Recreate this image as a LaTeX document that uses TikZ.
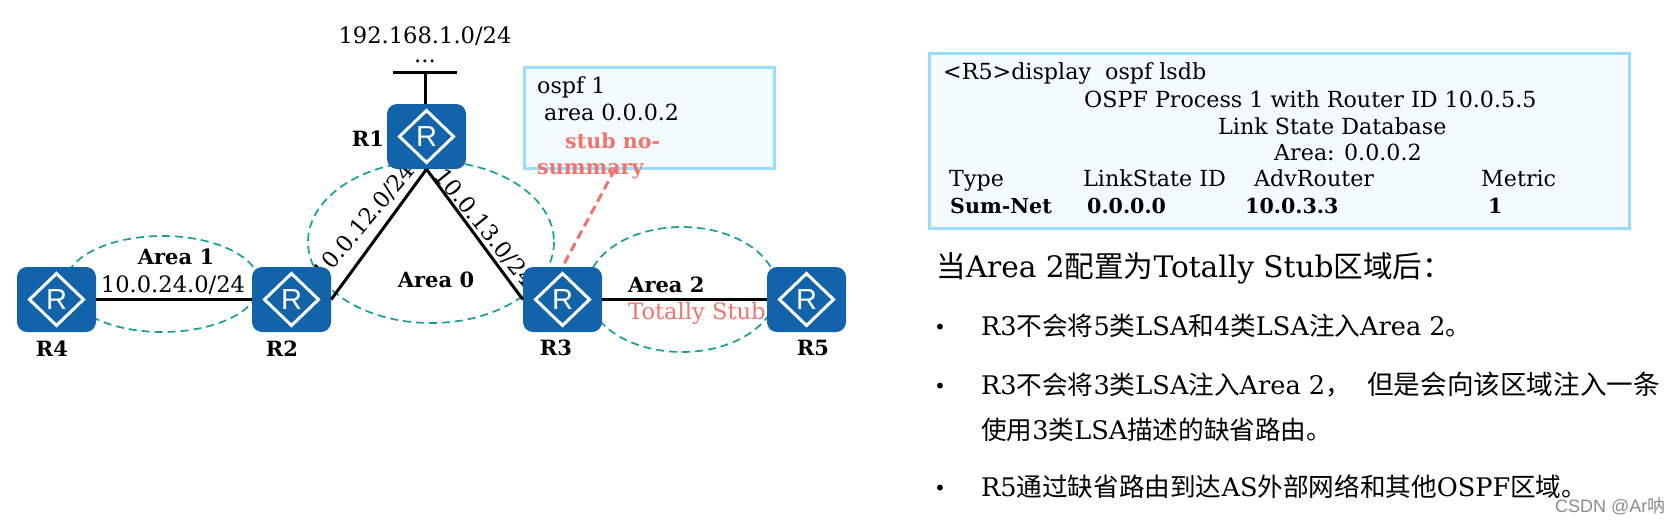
\documentclass[tikz,border=0pt]{standalone}
\usepackage{fontspec}
\setmainfont{DejaVu Serif}
\newfontfamily\cjk{Noto Sans CJK SC}
\newfontfamily\wmfont{Liberation Sans}
\definecolor{rblue}{HTML}{1363AA}
\definecolor{tealdash}{HTML}{149F98}
\definecolor{boxline}{HTML}{9ADCFA}
\definecolor{boxfill}{HTML}{F3FBFE}
\definecolor{redtxt}{HTML}{F0746C}
\newcommand{\fs}[1]{\fontsize{#1}{#1}\selectfont}
\tikzset{
  x=1pt,y=-1pt,
  router/.style={rectangle,rounded corners=10pt,fill=rblue,minimum width=79pt,minimum height=65pt,inner sep=0pt,text=white,
    font=\wmfont\fs{29},
    path picture={\draw[white,line width=3pt,sharp corners] ([xshift=-27pt]path picture bounding box.center)--([yshift=26pt]path picture bounding box.center)--([xshift=27pt]path picture bounding box.center)--([yshift=-26pt]path picture bounding box.center)--cycle;}},
  link/.style={line width=3pt,black},
  area/.style={tealdash,line width=1.7pt,dash pattern=on 8pt off 5pt},
  lbl/.style={inner sep=0pt,font=\fs{22.6}},
  tl/.style={inner sep=0pt,anchor=base west,font=\fs{22.2}},
  tb/.style={tl,font=\fs{20.6}\bfseries},
  rname/.style={inner sep=0pt,font=\fs{21}\bfseries},
  bul/.style={inner sep=0pt,anchor=base west,font=\fs{25.6}},
  panel/.style={draw=boxline,fill=boxfill,line width=3pt,inner sep=0pt,anchor=north west},
}
\begin{document}
\begin{tikzpicture}
\useasboundingbox (0,0) rectangle (1677,525);
% areas
\draw[area] (162.5,284) ellipse [x radius=97,y radius=48];
\draw[area] (431,242) ellipse [x radius=123,y radius=81];
\draw[area] (682,289.5) ellipse [x radius=95,y radius=62.5];
% rotated labels
\node[lbl,rotate=50] (l12) at (364,222) {10.0.12.0/24};
\node[lbl,rotate=-51] (l13) at (485,228) {10.0.13.0/24};
% routers
\coordinate (c0) at (425,72);
\coordinate (hl) at (393,72);
\coordinate (hr) at (457,72);
\coordinate (c1) at (615,169);
\node[panel,minimum width=250pt,minimum height=101pt] (cfg) at (522.5,65.5) {};
\draw[link] (hl) -- (hr);
\node[router] (r1) at (426.5,136.5) {R};
\node[router] (r2) at (291.5,299.5) {R};
\node[router] (r3) at (562.5,299.5) {R};
\node[router] (r4) at (56.5,299.5) {R};
\node[router] (r5) at (806.5,299.5) {R};
\draw[link] (c0) -- (r1.north -| c0);
\draw[link] (r4.east) -- (r2.west);
\draw[link] (r1.south) -- (r2.east);
\draw[link] (r1.south) -- (r3.west);
\draw[link] (r3.east) -- (r5.west);
\draw[redtxt,line width=3pt,dash pattern=on 9pt off 5pt] (c1) -- (r3.north);
% labels
\node[lbl] (net) at (425,36) {192.168.1.0/24};
\node[lbl] (dots) at (425,61) {...};
\node[rname] (n1) at (368,139) {R1};
\node[rname] (n4) at (52,349) {R4};
\node[rname] (n2) at (282,349) {R2};
\node[rname] (n3) at (556,348) {R3};
\node[rname] (n5) at (813,348) {R5};
\node[rname] (a1) at (176,257) {Area 1};
\node[lbl] (l24) at (173,285) {10.0.24.0/24};
\node[rname] (a0) at (436,280) {Area 0};
\node[rname,anchor=base west] (a2) at (628,292) {Area 2};
\node[lbl,anchor=base west,text=redtxt] (ts) at (628,319) {Totally Stub};
% config
\node[tl] (c1a) at (537,93) {ospf 1};
\node[tl] (c1b) at (544,120) {area 0.0.0.2};
\node[tb,text=redtxt] (c1c) at (565,148) {stub no-};
\node[tb,text=redtxt] (c1d) at (537,174) {summary};
% right box
\node[panel,minimum width=700pt,minimum height=175pt] (lsdb) at (928,51.5) {};
\node[tl] (d1) at (943,79) {<R5>display\ \ ospf lsdb};
\node[tl] (d2) at (1084,107) {OSPF Process 1 with Router ID 10.0.5.5};
\node[tl] (d3) at (1218,134) {Link State Database};
\node[tl] (d4) at (1274,160) {Area: 0.0.0.2};
\node[tl] (d5a) at (949,186) {Type};
\node[tl] (d5b) at (1083,186) {LinkState ID};
\node[tl] (d5c) at (1254,186) {AdvRouter};
\node[tl] (d5d) at (1481,186) {Metric};
\node[tb] (d6a) at (950,213) {Sum-Net};
\node[tb] (d6b) at (1087,213) {0.0.0.0};
\node[tb] (d6c) at (1245,213) {10.0.3.3};
\node[tb] (d6d) at (1488,213) {1};
% text
\node[inner sep=0pt,anchor=base west,font=\fs{29.6}] (tt) at (936,277) {{\cjk 当}Area 2{\cjk 配置为}Totally Stub{\cjk 区域后：}};
\node[bul] (b1) at (981,335) {R3{\cjk 不会将}5{\cjk 类}LSA{\cjk 和}4{\cjk 类}LSA{\cjk 注入}Area 2{\cjk 。}};
\node[bul] (b2) at (981,394) {R3{\cjk 不会将}3{\cjk 类}LSA{\cjk 注入}Area 2{\cjk ，}\hspace{10.5pt}{\cjk\fs{26.6} 但是会向该区域注入一条}};
\node[bul] (b3) at (981,439) {{\cjk 使用}3{\cjk 类}LSA{\cjk 描述的缺省路由。}};
\node[bul] (b4) at (981,496) {R5{\cjk 通过缺省路由到达}AS{\cjk 外部网络和其他}OSPF{\cjk 区域。}};
\node[inner sep=0pt,font=\fs{20}] (d1b) at (940,329) {•};
\node[inner sep=0pt,font=\fs{20}] (d2b) at (940,388) {•};
\node[inner sep=0pt,font=\fs{20}] (d3b) at (940,490) {•};
\node[inner sep=0pt,anchor=base west,text=black!45,font=\wmfont\fs{18}] (wm) at (1555,512) {CSDN @Ar{\cjk 呐}};
\end{tikzpicture}
\end{document}
